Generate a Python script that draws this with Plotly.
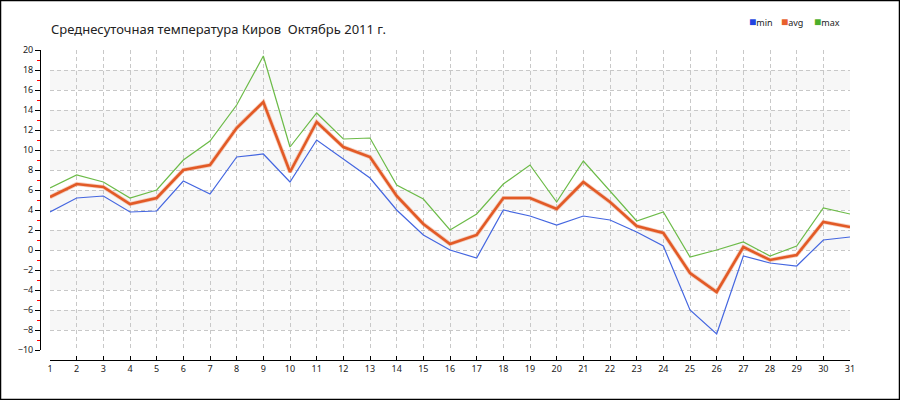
import plotly.graph_objects as go

days = list(range(1, 32))
t_min = [3.8, 5.2, 5.4, 3.8, 3.9, 6.9, 5.6, 9.3, 9.6, 6.8, 11.0, 9.1, 7.2, 4.0, 1.5, 0.0, -0.8, 4.0, 3.4, 2.5,
         3.4, 3.0, 1.8, 0.4, -6.0, -8.4, -0.6, -1.3, -1.6, 1.0, 1.3]
t_avg = [5.3, 6.6, 6.3, 4.6, 5.2, 8.0, 8.5, 12.2, 14.8, 7.8, 12.8, 10.3, 9.3, 5.4, 2.6, 0.6, 1.5, 5.2, 5.2, 4.1,
         6.8, 4.8, 2.4, 1.7, -2.3, -4.2, 0.3, -1.0, -0.5, 2.8, 2.3]
t_max = [6.2, 7.5, 6.8, 5.2, 6.0, 9.0, 10.9, 14.5, 19.4, 10.3, 13.7, 11.1, 11.2, 6.5, 5.1, 2.0, 3.6, 6.6, 8.5, 4.8,
         8.9, 5.9, 2.9, 3.8, -0.7, 0.0, 0.8, -0.6, 0.4, 4.2, 3.6]
bands = [(16, 18), (12, 14), (8, 10), (4, 6), (0, 2), (-4, -2), (-8, -6)]
title_text = "Среднесуточная температура Киров  Октябрь 2011 г."
series_names = ["min", "avg", "max"]

C_MIN = "#4466e0"
C_AVG = "#e25a26"
C_MAX = "#6cbb48"
FONT = "Noto Sans"

# plot area in pixels
L, R, T, B = 40, 850, 50, 360
W, H = R - L, B - T

def px_x(p):
    return (p - L) / W

def px_y(p):
    return (B - p) / H

fig = go.Figure()
fig.add_trace(go.Scatter(x=days, y=t_min, mode="lines", line=dict(color=C_MIN, width=1.2), showlegend=False))
fig.add_trace(go.Scatter(x=days, y=t_avg, mode="lines", line=dict(color="rgba(240,160,125,0.5)", width=4.2),
                         showlegend=False, hoverinfo="skip"))
fig.add_trace(go.Scatter(x=days, y=t_avg, mode="lines", line=dict(color=C_AVG, width=2.6), showlegend=False))
fig.add_trace(go.Scatter(x=days, y=t_max, mode="lines", line=dict(color=C_MAX, width=1.2), showlegend=False))

shapes = []
for y0, y1 in bands:
    shapes.append(dict(type="rect", xref="x", yref="y", x0=days[0], x1=days[-1], y0=y0, y1=y1,
                       fillcolor="#f7f7f7", line=dict(width=0), layer="below"))
# outer frame
shapes.append(dict(type="rect", xref="paper", yref="paper",
                   x0=px_x(0.5), x1=px_x(899.5), y0=px_y(399.5), y1=px_y(0.5),
                   line=dict(color="black", width=1.5), fillcolor="rgba(0,0,0,0)"))

annotations = [dict(xref="paper", yref="paper", x=px_x(49), y=px_y(29), xanchor="left", yanchor="middle",
                    text=title_text, showarrow=False, font=dict(family=FONT, size=13, color="#222"))]
leg_x = [747, 779, 812]
leg_c = ["#2244e0", "#e8602c", "#4cae2a"]
for name, xp, col in zip(series_names, leg_x, leg_c):
    annotations.append(dict(xref="paper", yref="paper", x=px_x(xp), y=px_y(22), xanchor="left", yanchor="middle",
                            text=f"<span style='color:{col};font-size:12px'>■</span>{name}", showarrow=False,
                            font=dict(family=FONT, size=9, color="#222")))

fig.update_layout(
    width=900, height=400,
    margin=dict(l=L, r=900 - R, t=T, b=400 - B, pad=0),
    paper_bgcolor="white", plot_bgcolor="white",
    showlegend=False,
    shapes=shapes, annotations=annotations,
    font=dict(family=FONT, size=9, color="#222"),
    xaxis=dict(domain=[10 / W, 1], range=[1, 31], tickmode="linear", tick0=1, dtick=1,
               showgrid=True, gridcolor="#c8c8c8", griddash="4px,3px", gridwidth=1,
               zeroline=False, showline=True, linecolor="black", linewidth=1,
               anchor="free", position=0, ticks="inside", ticklen=4, tickcolor="black",
               tickfont=dict(family=FONT, size=9, color="#222")),
    yaxis=dict(domain=[10 / H, 1], range=[-10, 20], tickmode="linear", tick0=-10, dtick=2,
               showgrid=True, gridcolor="#c8c8c8", griddash="4px,3px", gridwidth=1,
               zeroline=False, showline=True, linecolor="black", linewidth=1,
               anchor="free", position=0, ticks="outside", ticklen=5, tickcolor="black",
               minor=dict(dtick=1, tick0=-10, ticks="outside", ticklen=3, tickcolor="red", showgrid=False),
               tickfont=dict(family=FONT, size=9, color="#222")),
)

fig.write_html("out.html", config={"displayModeBar": False},
               post_script="document.body.style.margin='0';document.body.style.overflow='hidden';")
